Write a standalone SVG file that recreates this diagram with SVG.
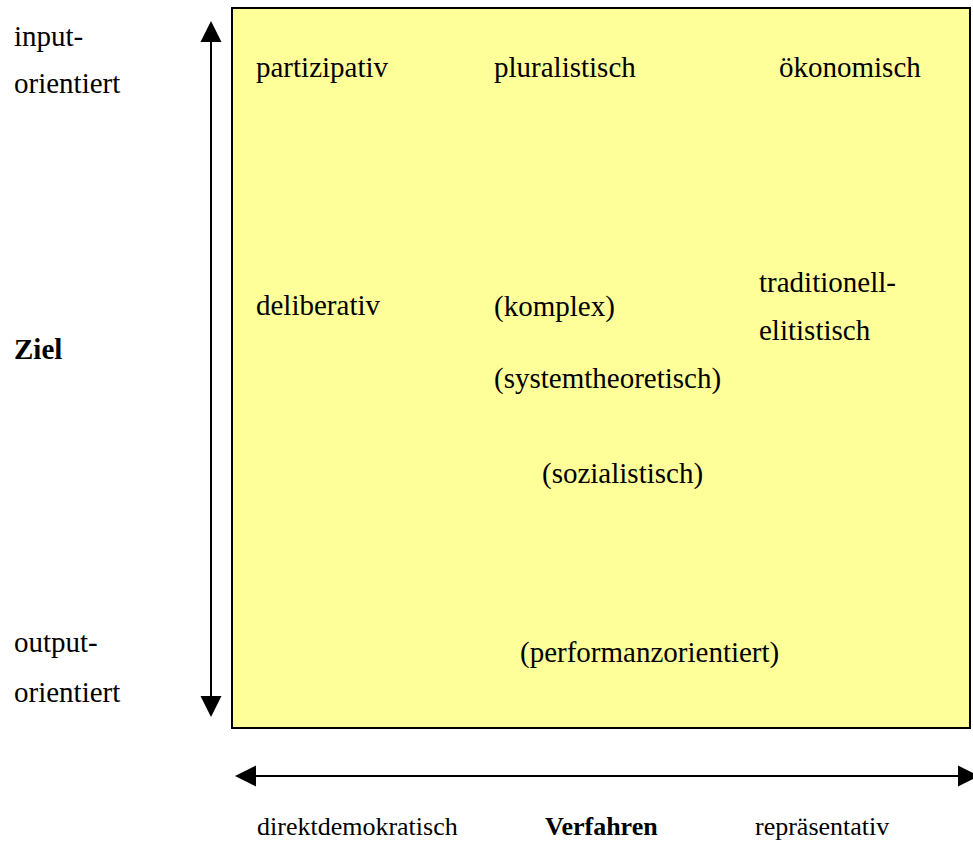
<svg xmlns="http://www.w3.org/2000/svg" width="973" height="843" viewBox="0 0 973 843">
<style>
text{font-family:"Liberation Serif","Times New Roman",serif;font-size:29px;fill:#000}
.b{font-weight:bold}
.s{font-size:26px}
.ax{stroke:#000;stroke-width:2;fill:none}
</style>
<rect width="973" height="843" fill="#fff"/>
<g id="field">
<rect x="232" y="8" width="738" height="720" fill="#FFFF99" stroke="#000" stroke-width="2"/>
</g>
<g id="connectors">
<line class="ax" x1="211" y1="42" x2="211" y2="696"/>
<polygon points="211,21 200.5,42 221.5,42" fill="#000"/>
<polygon points="211,717 200.5,696 221.5,696" fill="#000"/>
<line class="ax" x1="255" y1="776" x2="958" y2="776"/>
<polygon points="235,776 256,765.5 256,786.5" fill="#000"/>
<polygon points="979,776 958,765.5 958,786.5" fill="#000"/>
</g>
<g id="axis-y">
<text x="14" y="46">input-</text>
<text x="14" y="93">orientiert</text>
<text x="14" y="359" class="b">Ziel</text>
<text x="14" y="652">output-</text>
<text x="14" y="702">orientiert</text>
</g>
<g id="axis-x">
<text x="257" y="835" class="s">direktdemokratisch</text>
<text x="545" y="835" class="s b">Verfahren</text>
<text x="755" y="835" class="s">repräsentativ</text>
</g>
<g id="n-partizipativ"><text x="256" y="77">partizipativ</text></g>
<g id="n-pluralistisch"><text x="494" y="77">pluralistisch</text></g>
<g id="n-oekonomisch"><text x="779" y="77">ökonomisch</text></g>
<g id="n-deliberativ"><text x="256" y="315">deliberativ</text></g>
<g id="n-komplex"><text x="494" y="316">(komplex)</text></g>
<g id="n-traditionell"><text x="759" y="292">traditionell-</text><text x="759" y="340">elitistisch</text></g>
<g id="n-systemtheoretisch"><text x="494" y="388">(systemtheoretisch)</text></g>
<g id="n-sozialistisch"><text x="542" y="483">(sozialistisch)</text></g>
<g id="n-performanz"><text x="520" y="662">(performanzorientiert)</text></g>
</svg>
